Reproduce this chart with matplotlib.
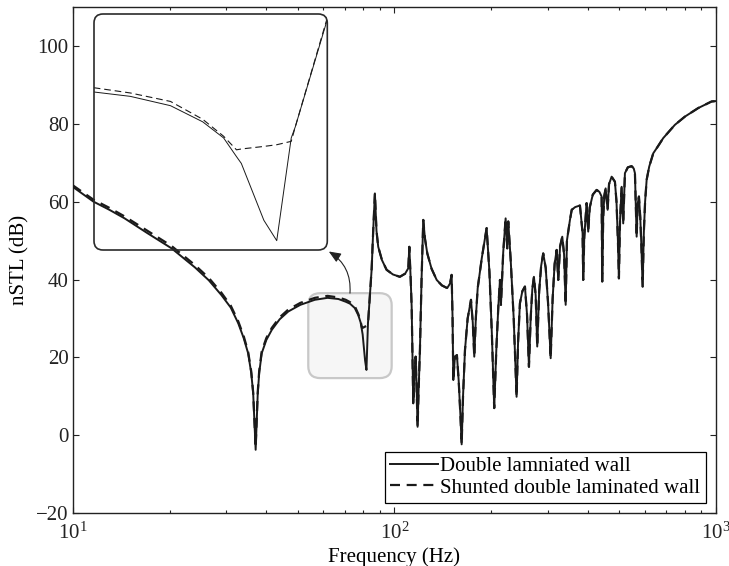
import numpy as np
import matplotlib
matplotlib.use('Agg')
import matplotlib.pyplot as plt
from matplotlib.patches import FancyBboxPatch
from matplotlib.transforms import IdentityTransform
from matplotlib.ticker import LogLocator, NullFormatter

# ---------------- data ----------------
freq = [10.0, 11.6, 13.0, 14.5, 17.0, 20.3, 24.0, 26.5, 29.0, 31.0,
        32.7, 34.0, 35.1, 35.9, 36.4, 37.05, 37.6, 38.0, 38.7, 40.0,
        41.6, 44.0, 46.8, 51.0, 56.6, 62.0, 67.0, 70.6, 72.8, 75.3,
        77.3, 78.6, 79.4, 79.7, 81.1, 81.9, 82.8, 83.05, 85.0, 86.0,
        87.0, 88.0, 89.1, 91.5, 94.6, 99.0, 104.0, 108.0, 110.5, 111.3,
        112.3, 113.2, 114.5, 115.5, 116.5, 117.3, 118.1, 119.0, 120.1, 121.5,
        123.0, 124.5, 126.6, 130.5, 135.4, 140.5, 146.0, 149.0, 150.7, 151.7,
        152.5, 154.3, 156.5, 158.5, 160.5, 161.9, 163.5, 165.8, 169.0, 173.1,
        175.3, 177.2, 179.3, 181.6, 187.0, 193.6, 197.5, 201.0, 204.4, 207.5,
        210.5, 213.0, 214.5, 218.0, 221.8, 224.4, 226.0, 230.0, 235.0, 239.9,
        242.5, 245.7, 250.0, 254.7, 258.5, 262.1, 265.5, 268.5, 271.6, 275.0,
        278.1, 282.0, 286.0, 290.3, 295.5, 300.5, 306.2, 310.5, 315.0, 319.6,
        323.3, 327.5, 332.7, 337.0, 340.9, 344.0, 351.5, 356.0, 365.0, 377.6,
        384.8, 386.5, 389.5, 396.0, 400.6, 405.0, 414.0, 425.5, 434.0, 441.0,
        442.9, 446.0, 449.5, 453.8, 460.3, 465.0, 473.7, 485.0, 490.5, 495.5,
        499.1, 503.0, 508.9, 514.7, 521.0, 532.0, 546.6, 555.0, 559.7, 566.6,
        571.0, 576.0, 581.5, 586.5, 591.5, 596.5, 602.0, 608.7, 620.0, 638.2,
        660.0, 685.4, 745.0, 800.0, 880.0, 969.0, 1000.0]

stl_double = [63.8, 60.0, 57.9, 55.7, 52.0, 48.0, 43.1, 39.8, 36.0, 32.8,
              28.8, 25.0, 21.1, 16.0, 10.8, -3.7, 10.5, 16.0, 21.1, 24.5,
              27.1, 29.8, 31.8, 33.5, 34.8, 35.3, 35.0, 34.3, 33.8, 32.7,
              30.8, 28.9, 26.7, 25.9, 19.2, 16.8, 28.9, 30.2, 42.6, 53.0,
              62.1, 52.5, 48.4, 45.0, 42.5, 41.3, 40.7, 41.5, 42.9, 48.4,
              41.0, 33.0, 8.2, 16.0, 20.2, 12.0, 2.2, 12.0, 21.9, 40.0,
              55.3, 50.5, 46.7, 42.8, 39.9, 38.5, 37.8, 39.0, 41.2, 30.0,
              14.2, 20.2, 20.6, 14.0, 5.0, -2.3, 10.0, 21.9, 30.0, 34.8,
              29.0, 20.2, 30.5, 37.8, 45.5, 53.2, 42.0, 26.0, 7.0, 22.0,
              33.0, 39.9, 33.5, 47.0, 55.7, 48.0, 54.9, 45.0, 30.0, 9.9,
              24.0, 33.9, 37.0, 38.2, 31.0, 17.6, 30.5, 37.5, 40.7, 36.0,
              22.8, 37.0, 43.5, 46.7, 43.0, 34.0, 19.8, 35.0, 44.0, 47.6,
              39.9, 48.5, 51.0, 46.5, 33.5, 50.0, 55.3, 57.9, 58.6, 59.0,
              51.9, 39.9, 51.0, 59.6, 52.3, 58.5, 61.8, 63.0, 62.5, 61.3,
              39.5, 56.0, 61.5, 63.4, 57.9, 64.5, 66.4, 65.1, 60.0, 50.0,
              40.3, 55.0, 63.8, 54.4, 67.3, 68.8, 69.1, 68.5, 67.3, 51.0,
              59.5, 61.3, 56.0, 48.0, 38.2, 52.0, 60.0, 65.6, 69.0, 72.4,
              74.2, 76.3, 79.7, 81.8, 84.0, 85.7, 85.8]

stl_shunted = [64.2, 60.5, 58.4, 56.2, 52.6, 48.6, 43.7, 40.4, 36.6, 33.3,
               29.3, 25.5, 21.5, 16.4, 11.0, -3.2, 11.0, 16.5, 21.6, 25.0,
               27.6, 30.3, 32.3, 34.0, 35.3, 35.8, 35.4, 34.8, 34.2, 33.2,
               31.1, 29.1, 27.5, 27.6, 27.9, 28.1, 28.5, 30.2, 42.8, 53.0,
               62.1, 52.5, 48.4, 45.0, 42.5, 41.3, 40.7, 41.5, 42.9, 48.4,
               41.0, 33.0, 8.2, 16.0, 20.2, 12.0, 2.2, 12.0, 21.9, 40.0,
               55.3, 50.5, 46.7, 42.8, 39.9, 38.5, 37.8, 39.0, 41.2, 30.0,
               14.2, 20.2, 20.6, 14.0, 5.0, -2.3, 10.0, 21.9, 30.0, 34.8,
               29.0, 20.2, 30.5, 37.8, 45.5, 53.2, 42.0, 26.0, 7.0, 22.0,
               33.0, 39.9, 33.5, 47.0, 55.7, 48.0, 54.9, 45.0, 30.0, 9.9,
               24.0, 33.9, 37.0, 38.2, 31.0, 17.6, 30.5, 37.5, 40.7, 36.0,
               22.8, 37.0, 43.5, 46.7, 43.0, 34.0, 19.8, 35.0, 44.0, 47.6,
               39.9, 48.5, 51.0, 46.5, 33.5, 50.0, 55.3, 57.9, 58.6, 59.0,
               51.9, 39.9, 51.0, 59.6, 52.3, 58.5, 61.8, 63.0, 62.5, 61.3,
               39.5, 56.0, 61.5, 63.4, 57.9, 64.5, 66.4, 65.1, 60.0, 50.0,
               40.3, 55.0, 63.8, 54.4, 67.3, 68.8, 69.1, 68.5, 67.3, 51.0,
               59.5, 61.3, 56.0, 48.0, 38.2, 52.0, 60.0, 65.6, 69.0, 72.4,
               74.2, 76.3, 79.7, 81.8, 84.0, 85.7, 85.8]

legend_labels = ['Double lamniated wall', 'Shunted double laminated wall']
x_ticks = [10, 100, 1000]
x_ticklabels = [r'$10^{1}$', r'$10^{2}$', r'$10^{3}$']
y_ticks = [-20, 0, 20, 40, 60, 80, 100]

# zoom window (data units) shown in the inset
zoom_freq = [54.0, 98.1]
zoom_stl = [14.7, 36.5]
inset_xlim = [70.55, 85.04]
inset_ylim = [15.7, 43.5]

# ---------------- style ----------------
plt.rcParams['font.family'] = ['Liberation Serif', 'DejaVu Serif']
plt.rcParams['mathtext.fontset'] = 'custom'
plt.rcParams['mathtext.rm'] = 'Liberation Serif'
plt.rcParams['mathtext.it'] = 'Liberation Serif:italic'
plt.rcParams['mathtext.bf'] = 'Liberation Serif:bold'

FS = 15
W, H = 729, 566
fig = plt.figure(figsize=(W / 100, H / 100), dpi=100)
ax = fig.add_axes([72.7 / W, 1 - 513.3 / H, (716 - 72.7) / W, (513.3 - 6.8) / H])

LINE = '#1a1a1a'
ax.plot(freq, stl_double, color=LINE, lw=1.4, label=legend_labels[0], zorder=3)
ax.plot(freq, stl_shunted, color=LINE, lw=1.6, ls=(0, (4.5, 3)),
        label=legend_labels[1], zorder=4)

ax.set_xscale('log')
ax.set_xlim(10, 1000)
ax.set_ylim(-20, 110)
ax.set_xticks(x_ticks)
ax.set_xticklabels(x_ticklabels)
ax.xaxis.set_minor_locator(LogLocator(base=10, subs=range(2, 10)))
ax.xaxis.set_minor_formatter(NullFormatter())
ax.set_yticks(y_ticks)
ax.tick_params(which='both', direction='in', top=True, right=True,
               labelsize=FS, width=0.8, colors='#222222')
ax.tick_params(axis='y', pad=3)
ax.tick_params(axis='x', pad=7)
ax.tick_params(which='major', length=4.5)
ax.tick_params(which='minor', length=2.3)
for s in ax.spines.values():
    s.set_linewidth(1.0)
    s.set_color('#222222')

ax.set_xlabel('Frequency (Hz)', fontsize=FS, labelpad=2)
ax.set_ylabel('nSTL (dB)', fontsize=FS, labelpad=5)

leg = ax.legend(loc='lower right', fontsize=FS, frameon=True, fancybox=False,
                edgecolor='black', framealpha=1, handlelength=2.3,
                handletextpad=0.12, labelspacing=0.08, borderpad=0.25,
                borderaxespad=0.5)
leg.get_frame().set_linewidth(0.9)

# highlight box around the zoomed region
(x0, y0), (x1, y1) = ax.transData.transform([(zoom_freq[0], zoom_stl[0]),
                                            (zoom_freq[1], zoom_stl[1])])
hl = FancyBboxPatch((x0, y0), x1 - x0, y1 - y0,
                    boxstyle='round,pad=0,rounding_size=12',
                    transform=IdentityTransform(), facecolor='#f6f6f6',
                    edgecolor='#c8c8c8', lw=1.6, zorder=1, clip_on=False)
ax.add_artist(hl)

# inset axes
ix0, iy0, iw, ih = 94, H - 250, 233.3, 236
axin = fig.add_axes([ix0 / W, iy0 / H, iw / W, ih / H])
axin.set_facecolor('none')
axin.plot(freq, stl_double, color=LINE, lw=0.7)
axin.plot(freq, stl_shunted, color=LINE, lw=0.8, ls=(0, (6, 3.5)))
axin.set_xlim(*inset_xlim)
axin.set_ylim(*inset_ylim)
axin.axis('off')
box = FancyBboxPatch((ix0, iy0), iw, ih, boxstyle='round,pad=0,rounding_size=9',
                     transform=IdentityTransform(), fill=False,
                     edgecolor='#2a2a2a', lw=1.2)
fig.add_artist(box)

# arrow from highlight box to inset corner
ax.annotate('', xy=(ix0 + iw + 1.5, iy0 - 1.5), xycoords='figure pixels',
            xytext=((x0 + x1) / 2, y1), textcoords='figure pixels',
            arrowprops=dict(arrowstyle='-|>,head_length=0.6,head_width=0.25',
                            connectionstyle='arc3,rad=0.3', color='#222222',
                            lw=0.8, shrinkA=0, shrinkB=0, mutation_scale=12),
            annotation_clip=False)

fig.savefig('out.png', dpi=100)
